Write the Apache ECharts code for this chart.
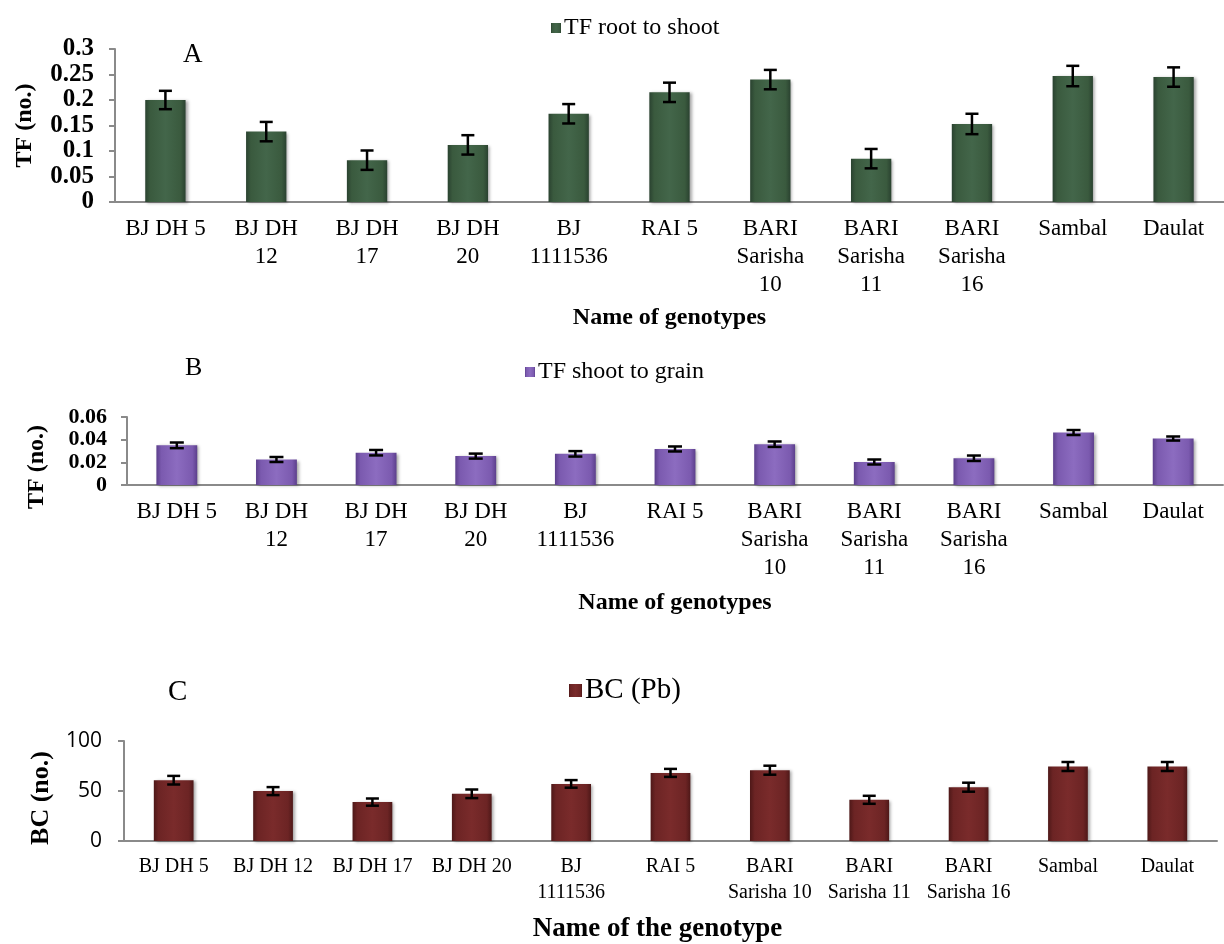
<!DOCTYPE html>
<html>
<head>
    <meta charset="utf-8">
    <title>TF and BC of genotypes</title>
    <script src="https://cdn.jsdelivr.net/npm/echarts@6/dist/echarts.min.js"></script>
    <style>
        html, body { margin: 0; padding: 0; background: #fff; }
        #chart { width: 1224px; height: 944px; }
    </style>
</head>
<body>
<div id="chart"></div>
<script>
    // genotype names, wrapped the way each panel shows them
    var catsAB = ['BJ DH 5', 'BJ DH\n12', 'BJ DH\n17', 'BJ DH\n20', 'BJ\n1111536', 'RAI 5',
        'BARI\nSarisha\n10', 'BARI\nSarisha\n11', 'BARI\nSarisha\n16', 'Sambal', 'Daulat'];
    var catsC = ['BJ DH 5', 'BJ DH 12', 'BJ DH 17', 'BJ DH 20', 'BJ\n1111536', 'RAI 5',
        'BARI\nSarisha 10', 'BARI\nSarisha 11', 'BARI\nSarisha 16', 'Sambal', 'Daulat'];

    // A: TF root to shoot
    var tfRoot    = [0.200, 0.138, 0.082, 0.112, 0.173, 0.215, 0.240, 0.085, 0.153, 0.247, 0.245];
    var tfRootErr = [0.018, 0.019, 0.019, 0.019, 0.019, 0.019, 0.019, 0.019, 0.020, 0.020, 0.019];
    // B: TF shoot to grain
    var tfGrain    = [0.0350, 0.0225, 0.0285, 0.0255, 0.0275, 0.0318, 0.0360, 0.0203, 0.0236, 0.0463, 0.0410];
    var tfGrainErr = [0.0025, 0.0022, 0.0024, 0.0022, 0.0024, 0.0022, 0.0024, 0.0022, 0.0024, 0.0022, 0.0018];
    // C: BC (Pb)
    var bcPb    = [60.8, 49.9, 38.9, 47.2, 57.1, 68.1, 70.8, 41.2, 53.8, 74.5, 74.5];
    var bcPbErr = [4.3, 4.0, 3.6, 4.3, 3.8, 4.0, 4.5, 4.0, 4.5, 4.5, 4.5];

    var serif = '"Liberation Serif", "Times New Roman", serif';

    function barColor(dark, base, light) {
        return {
            type: 'linear', x: 0, y: 0, x2: 1, y2: 0,
            colorStops: [
                {offset: 0, color: dark},
                {offset: 0.12, color: base},
                {offset: 0.5, color: light},
                {offset: 0.88, color: base},
                {offset: 1, color: dark}
            ]
        };
    }

    function errData(vals, errs) {
        var out = [];
        for (var i = 0; i < vals.length; i++) {
            out.push([i, vals[i], errs[i]]);
        }
        return out;
    }

    function errRender(capHalf) {
        return function (params, api) {
            var i = api.value(0);
            var v = api.value(1);
            var e = api.value(2);
            var hi = api.coord([i, v + e]);
            var lo = api.coord([i, v - e]);
            var st = {stroke: '#000', lineWidth: 2.5};
            return {
                type: 'group',
                children: [
                    {type: 'line', shape: {x1: hi[0], y1: hi[1], x2: lo[0], y2: lo[1]}, style: st},
                    {type: 'line', shape: {x1: hi[0] - capHalf, y1: hi[1], x2: hi[0] + capHalf, y2: hi[1]}, style: st},
                    {type: 'line', shape: {x1: lo[0] - capHalf, y1: lo[1], x2: lo[0] + capHalf, y2: lo[1]}, style: st}
                ]
            };
        };
    }

    var axisLine = {lineStyle: {color: '#8a8a8a', width: 2}};
    var axisTick = {length: 6, lineStyle: {color: '#8a8a8a', width: 2}};

    function xAxis(idx, cats, size, lh, name, nameSize, gap, shift) {
        return {
            type: 'category', gridIndex: idx, data: cats,
            axisLine: axisLine, axisTick: axisTick,
            axisLabel: {interval: 0, color: '#000', fontFamily: serif, fontSize: size, lineHeight: lh, margin: 13},
            name: name, nameLocation: 'middle', nameGap: gap,
            nameTextStyle: {color: '#000', fontFamily: serif, fontWeight: 'bold', fontSize: nameSize, padding: [0, shift, 0, 0]}
        };
    }

    function yAxis(idx, max, interval, bold, family, size, margin, name, nameSize, gap, shiftY) {
        return {
            type: 'value', gridIndex: idx, min: 0, max: max, interval: interval,
            axisLine: {show: true, lineStyle: axisLine.lineStyle},
            axisTick: {show: true, length: 6, lineStyle: axisTick.lineStyle},
            splitLine: {show: false},
            axisLabel: {
                color: '#000', fontFamily: family, fontWeight: bold ? 'bold' : 'normal', fontSize: size,
                margin: margin, hideOverlap: false, showMinLabel: true, showMaxLabel: true
            },
            name: name, nameLocation: 'middle', nameGap: gap, nameRotate: 90,
            nameTextStyle: {color: '#000', fontFamily: serif, fontWeight: 'bold', fontSize: nameSize, padding: [0, shiftY, 0, 0]}
        };
    }

    var chart = echarts.init(document.getElementById('chart'));

    var option = {
        animation: false,
        backgroundColor: '#fff',
        title: [
            {text: 'A', left: 178, top: 36, textStyle: {fontFamily: serif, fontWeight: 'normal', fontSize: 27, color: '#000'}},
            {text: 'B', left: 180, top: 350, textStyle: {fontFamily: serif, fontWeight: 'normal', fontSize: 26, color: '#000'}},
            {text: 'C', left: 163, top: 673, textStyle: {fontFamily: serif, fontWeight: 'normal', fontSize: 29, color: '#000'}}
        ],
        legend: [
            {data: ['TF root to shoot'], left: 546, top: 11, icon: 'rect', itemWidth: 10, itemHeight: 10, itemGap: 4,
                textStyle: {fontFamily: serif, fontSize: 24, color: '#000', padding: [0, 0, 0, -2]}},
            {data: ['TF shoot to grain'], left: 520, top: 355, icon: 'rect', itemWidth: 10, itemHeight: 10,
                textStyle: {fontFamily: serif, fontSize: 24, color: '#000', padding: [0, 0, 0, -2]}},
            {data: ['BC (Pb)'], left: 564, top: 671, icon: 'rect', itemWidth: 13, itemHeight: 13,
                textStyle: {fontFamily: serif, fontSize: 29, color: '#000', padding: [0, 0, 0, -2]}}
        ],
        grid: [
            {left: 115, top: 49, width: 1116, height: 153},
            {left: 127, top: 417, width: 1096, height: 68},
            {left: 124, top: 741, width: 1093, height: 100}
        ],
        xAxis: [
            xAxis(0, catsAB, 23, 28, 'Name of genotypes', 24, 104, 0),
            xAxis(1, catsAB, 23, 28, 'Name of genotypes', 24, 106, 0),
            xAxis(2, catsC, 20, 26, 'Name of the genotype', 27, 75, 26)
        ],
        yAxis: [
            yAxis(0, 0.3, 0.05, true, serif, 25, 21, 'TF (no.)', 24, 78, 0),
            yAxis(1, 0.06, 0.02, true, serif, 22, 20, 'TF (no.)', 24, 78, 32),
            yAxis(2, 100, 50, false, '"Open Sans", "DejaVu Sans", sans-serif', 21, 22, 'BC (no.)', 26, 70, 14)
        ],
        series: [
            {
                name: 'TF root to shoot', type: 'bar', xAxisIndex: 0, yAxisIndex: 0, data: tfRoot, barWidth: '40%',
                itemStyle: {color: barColor('#2a4230', '#3a5a3e', '#43664a'), shadowBlur: 3, shadowColor: 'rgba(0,0,0,0.35)', shadowOffsetX: 2, shadowOffsetY: 1}
            },
            {
                type: 'custom', xAxisIndex: 0, yAxisIndex: 0, data: errData(tfRoot, tfRootErr),
                renderItem: errRender(6.5), encode: {x: 0, y: 1}, z: 5, silent: true
            },
            {
                name: 'TF shoot to grain', type: 'bar', xAxisIndex: 1, yAxisIndex: 1, data: tfGrain, barWidth: '41%',
                itemStyle: {color: barColor('#5c3f8c', '#7b5aaf', '#8c6cc0'), shadowBlur: 3, shadowColor: 'rgba(0,0,0,0.35)', shadowOffsetX: 2, shadowOffsetY: 1}
            },
            {
                type: 'custom', xAxisIndex: 1, yAxisIndex: 1, data: errData(tfGrain, tfGrainErr),
                renderItem: errRender(7), encode: {x: 0, y: 1}, z: 5, silent: true
            },
            {
                name: 'BC (Pb)', type: 'bar', xAxisIndex: 2, yAxisIndex: 2, data: bcPb, barWidth: '40%',
                itemStyle: {color: barColor('#4e1818', '#6c2424', '#7a2b2b'), shadowBlur: 3, shadowColor: 'rgba(0,0,0,0.35)', shadowOffsetX: 2, shadowOffsetY: 1}
            },
            {
                type: 'custom', xAxisIndex: 2, yAxisIndex: 2, data: errData(bcPb, bcPbErr),
                renderItem: errRender(6.5), encode: {x: 0, y: 1}, z: 5, silent: true
            }
        ]
    };

    chart.setOption(option);
</script>
</body>
</html>
